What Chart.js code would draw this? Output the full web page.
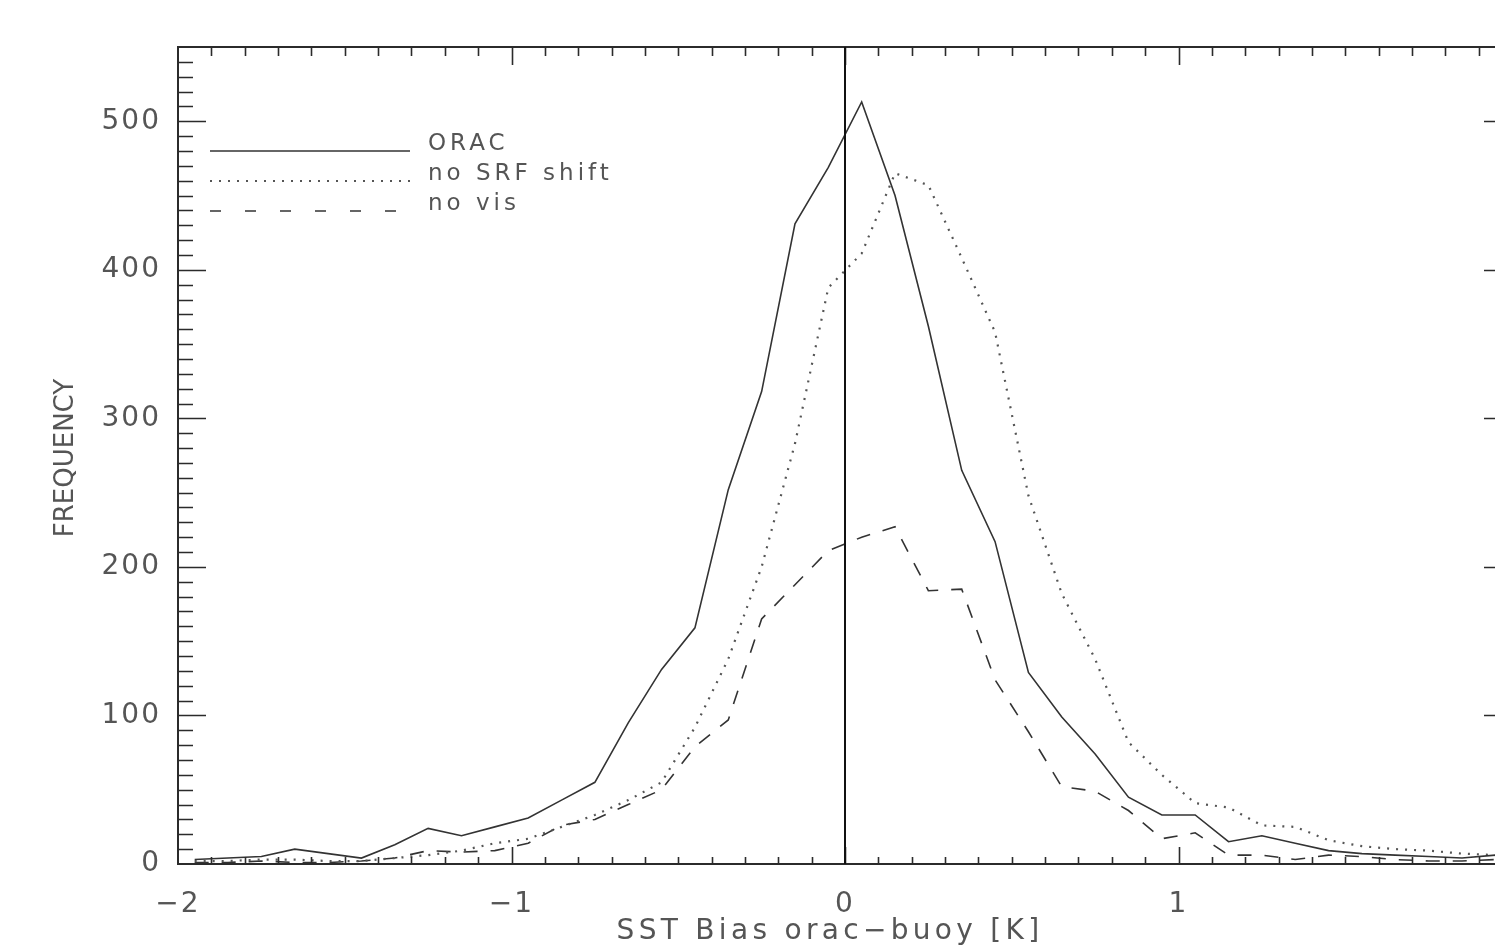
<!DOCTYPE html>
<html>
<head>
<meta charset="utf-8">
<script src="https://cdn.jsdelivr.net/npm/chart.js@4.4.1/dist/chart.umd.min.js"></script>
<style>
  html, body { margin: 0; padding: 0; background: #fff; overflow: hidden; }
  #wrap { position: absolute; left: 0; top: 0; width: 1530px; height: 946px; }
</style>
</head>
<body>
<div id="wrap"><canvas id="chart"></canvas></div>
<script>
// SST bias histogram (bin centres, 0.1 K bins)
const binCentres = [-1.95, -1.85, -1.75, -1.65, -1.55, -1.45, -1.35, -1.25, -1.15, -1.05,
                    -0.95, -0.85, -0.75, -0.65, -0.55, -0.45, -0.35, -0.25, -0.15, -0.05,
                     0.05,  0.15,  0.25,  0.35,  0.45,  0.55,  0.65,  0.75,  0.85,  0.95,
                     1.05,  1.15,  1.25,  1.35,  1.45,  1.55,  1.65,  1.75,  1.85,  1.95];

const oracFreq = [3, 4, 5, 10, 7, 4, 13, 24, 19, 25,
                  31, 43, 55, 95, 131, 159, 252, 318, 431, 469,
                  513, 450, 362, 265, 217, 129, 99, 74, 45, 33,
                  33, 15, 19, 14, 9, 7, 6, 5, 4, 6];

const noSrfFreq = [2, 2, 3, 3, 2, 2, 4, 6, 9, 14,
                   17, 25, 33, 43, 55, 92, 138, 200, 283, 388,
                   411, 465, 457, 408, 358, 248, 182, 138, 82, 60,
                   41, 38, 26, 25, 16, 12, 10, 9, 7, 6];

const noVisFreq = [1, 1, 2, 1, 1, 2, 4, 9, 8, 9,
                   14, 26, 30, 40, 50, 79, 97, 165, 188, 211,
                   220, 227, 184, 185, 124, 89, 52, 49, 36, 17,
                   21, 6, 6, 3, 6, 5, 3, 2, 2, 3];

const seriesLabels = ['ORAC', 'no SRF shift', 'no vis'];
const xTickValues = [-2, -1, 0, 1, 2];
const yTickValues = [0, 100, 200, 300, 400, 500];

const INK = '#2b2b2b';
const TEXT = '#555555';

function pts(values) {
    return binCentres.map((x, i) => ({ x: x, y: values[i] }));
}

const datasets = [
    { label: seriesLabels[0], data: pts(oracFreq), borderColor: '#333', borderWidth: 1.6, borderDash: [] },
    { label: seriesLabels[1], data: pts(noSrfFreq), borderColor: '#555', borderWidth: 2.2, borderDash: [2, 7] },
    { label: seriesLabels[2], data: pts(noVisFreq), borderColor: '#333', borderWidth: 1.6, borderDash: [14, 13] }
].map(ds => ({ ...ds, pointRadius: 0, tension: 0, fill: false }));

// frame, inward ticks, zero line, legend and axis titles
const idlFrame = {
    id: 'idlFrame',
    beforeDraw(chart) {
        chart.ctx.letterSpacing = '2px';
    },
    afterDatasetsDraw(chart) {
        const { ctx, chartArea: a, scales: { x, y } } = chart;
        ctx.save();
        ctx.letterSpacing = '0px';
        ctx.strokeStyle = INK;
        ctx.lineWidth = 2;
        ctx.setLineDash([]);
        ctx.strokeRect(a.left, a.top, a.right - a.left, a.bottom - a.top);

        ctx.lineWidth = 1.6;
        ctx.beginPath();
        for (let v = 10; v <= 540; v += 10) {
            const py = Math.round(y.getPixelForValue(v)) + 0.5;
            const len = v % 100 === 0 ? 28 : 15;
            ctx.moveTo(a.left, py); ctx.lineTo(a.left + len, py);
            ctx.moveTo(a.right, py); ctx.lineTo(a.right - len, py);
        }
        for (let k = -19; k <= 19; k++) {
            const px = Math.round(x.getPixelForValue(k / 10)) + 0.5;
            const major = k % 10 === 0;
            ctx.moveTo(px, a.bottom); ctx.lineTo(px, a.bottom - (major ? 17 : 7));
            ctx.moveTo(px, a.top); ctx.lineTo(px, a.top + (major ? 18 : 9));
        }
        ctx.stroke();

        // zero bias line
        const x0 = x.getPixelForValue(0);
        ctx.strokeStyle = '#111';
        ctx.lineWidth = 2;
        ctx.beginPath();
        ctx.moveTo(x0, a.top); ctx.lineTo(x0, a.bottom);
        ctx.stroke();

        // legend
        const legendY = [151, 181, 211];
        chart.data.datasets.forEach((ds, i) => {
            ctx.strokeStyle = ds.borderColor;
            ctx.lineWidth = ds.borderWidth;
            ctx.setLineDash(i === 2 ? [11, 24] : ds.borderDash);
            ctx.beginPath();
            ctx.moveTo(210, legendY[i]); ctx.lineTo(410, legendY[i]);
            ctx.stroke();
            ctx.setLineDash([]);
            ctx.fillStyle = TEXT;
            ctx.font = '23px "DejaVu Sans"';
            ctx.letterSpacing = '4px';
            ctx.textAlign = 'left';
            ctx.textBaseline = 'middle';
            ctx.fillText(ds.label, 428, legendY[i] - 7);
        });

        // axis titles
        ctx.fillStyle = TEXT;
        ctx.font = '28px "DejaVu Sans"';
        ctx.letterSpacing = '4.3px';
        ctx.textAlign = 'center';
        ctx.textBaseline = 'middle';
        ctx.fillText('SST Bias orac\u2212buoy [K]', 830, 932);

        ctx.save();
        ctx.translate(66, 458);
        ctx.rotate(-Math.PI / 2);
        ctx.font = '26px "DejaVu Sans"';
        ctx.letterSpacing = '0px';
        ctx.fillText('FREQUENCY', 0, 0);
        ctx.restore();
        ctx.restore();
    }
};

new Chart(document.getElementById('chart'), {
    type: 'line',
    data: { datasets },
    options: {
        responsive: true,
        maintainAspectRatio: false,
        animation: false,
        layout: { padding: { top: 47, right: 18, left: 0, bottom: 0 } },
        plugins: { legend: { display: false }, tooltip: { enabled: false } },
        scales: {
            x: {
                type: 'linear', min: -2, max: 2,
                grid: { display: false },
                border: { display: false },
                afterBuildTicks: s => { s.ticks = xTickValues.map(v => ({ value: v })); },
                afterFit: s => { s.height = 82; s.paddingLeft = 0; s.paddingRight = 0; },
                ticks: {
                    padding: 16, color: TEXT,
                    font: { family: 'DejaVu Sans', size: 28 },
                    callback: v => String(v).replace('-', '\u2212')
                }
            },
            y: {
                min: 0, max: 550,
                grid: { display: false },
                border: { display: false },
                afterBuildTicks: s => { s.ticks = yTickValues.map(v => ({ value: v })); },
                afterFit: s => { s.width = 178; s.paddingTop = 0; s.paddingBottom = 0; },
                ticks: {
                    padding: 9, color: TEXT,
                    font: { family: 'DejaVu Sans', size: 28 }
                }
            }
        }
    },
    plugins: [idlFrame]
});
</script>
</body>
</html>
